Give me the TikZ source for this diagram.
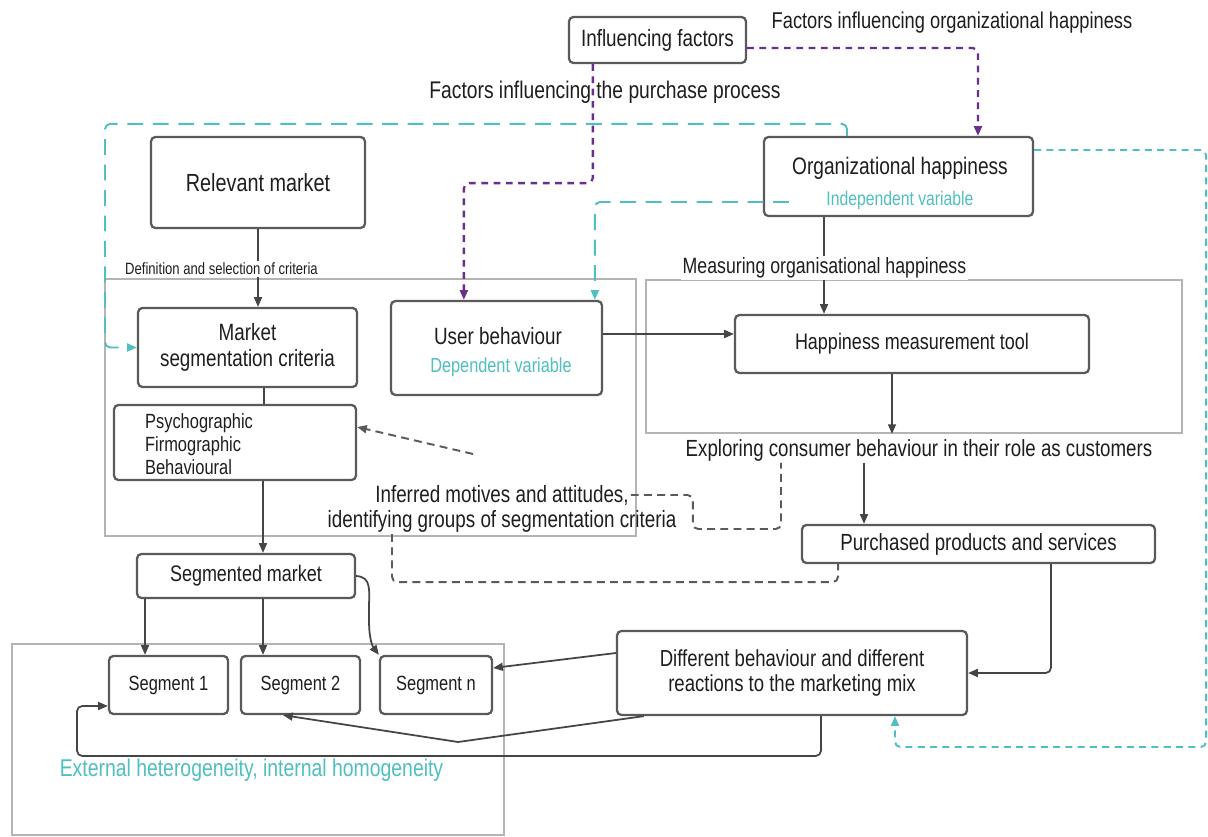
\documentclass[tikz,border=0pt]{standalone}
\usepackage{fontspec}
\setmainfont{Liberation Sans}[FakeStretch=0.8]
\usetikzlibrary{arrows.meta,calc}

\definecolor{ink}{HTML}{1E1E1E}
\definecolor{boxline}{HTML}{5A5A5A}
\definecolor{frameline}{HTML}{B4B4B4}
\definecolor{wirec}{HTML}{454545}
\definecolor{tealc}{HTML}{4FBFC0}
\definecolor{purp}{HTML}{6A2E8F}
\definecolor{dgray}{HTML}{5A5A5A}

\newcommand\fsz[2]{\fontsize{#1}{#2}\selectfont}

\tikzset{
  box/.style={draw=boxline, line width=1.3pt, rounded corners=2.5pt, fill=white,
    inner sep=0pt, text=ink, align=center},
  frame/.style={draw=frameline, line width=1.1pt, inner sep=0pt},
  lbl/.style={inner sep=1pt, text=ink, align=center},
  tip/.style={-{Triangle[length=5.5pt,width=4.5pt]}},
  wire/.style={draw=wirec, line width=1pt, rounded corners=3pt, tip},
  purpline/.style={draw=purp, line width=1.3pt, dash pattern=on 3.8pt off 3.2pt,
    rounded corners=3pt, -{Triangle[length=5.5pt,width=4.5pt]}},
  teallong/.style={draw=tealc, line width=1.1pt, dash pattern=on 9pt off 5.5pt,
    rounded corners=3pt, -{Triangle[length=5.5pt,width=4.5pt]}},
  tealdot/.style={draw=tealc, line width=1.1pt, dash pattern=on 4pt off 3pt,
    rounded corners=3pt, -{Triangle[length=5.5pt,width=4.5pt]}},
  gdash/.style={draw=dgray, line width=1.1pt, dash pattern=on 4.5pt off 3pt,
    rounded corners=3pt},
}

\begin{document}
\begin{tikzpicture}[x=0.02cm, y=-0.02cm]
\fill[white] (0,0) rectangle (1208,837);
\useasboundingbox (0,0) rectangle (1208,837);

% light grey grouping frames
\node[frame, minimum width=10.62cm, minimum height=5.14cm] (lbox) at (370.5,407.5) {};
\node[frame, minimum width=10.72cm, minimum height=3.06cm] (rbox) at (914,356.5) {};
\node[frame, minimum width=9.84cm, minimum height=3.82cm] (bbox) at (258,739.5) {};

% boxes
\node[box, minimum width=3.54cm, minimum height=0.92cm, font=\fsz{13.4pt}{15pt}] (inf) at (657.5,40) {Influencing factors};
\node[box, minimum width=5.38cm, minimum height=1.58cm] (org) at (898.5,176.5) {};
\node[box, minimum width=4.28cm, minimum height=1.82cm, font=\fsz{14.1pt}{16pt}] (rel) at (258,182.5) {Relevant market};
\node[box, minimum width=4.38cm, minimum height=1.58cm, font=\fsz{13.4pt}{14.7pt}] (msc) at (247.5,347.5) {Market\\segmentation criteria};
\node[box, minimum width=4.84cm, minimum height=1.5cm] (psy) at (235,442.5) {};
\node[box, minimum width=4.22cm, minimum height=1.88cm] (ub) at (496.5,348) {};
\node[box, minimum width=7.08cm, minimum height=1.16cm, font=\fsz{12.8pt}{14pt}] (tool) at (912,344) {Happiness measurement tool};
\node[box, minimum width=7.06cm, minimum height=0.76cm, font=\fsz{13.3pt}{14.7pt}] (pur) at (978.5,544) {Purchased products and services};
\node[box, minimum width=4.36cm, minimum height=0.88cm, font=\fsz{12.8pt}{14pt}] (seg) at (246,576) {Segmented market};
\node[box, minimum width=2.38cm, minimum height=1.16cm, font=\fsz{11.7pt}{13pt}] (s1) at (168.5,685) {Segment 1};
\node[box, minimum width=2.38cm, minimum height=1.16cm, font=\fsz{11.7pt}{13pt}] (s2) at (300.5,685) {Segment 2};
\node[box, minimum width=2.24cm, minimum height=1.16cm, font=\fsz{11.7pt}{13pt}] (sn) at (436,685) {Segment n};
\node[box, minimum width=7.0cm, minimum height=1.68cm, font=\fsz{13.2pt}{14.7pt}] (diff) at (792,673) {Different behaviour and different\\reactions to the marketing mix};

% texts inside the two-line boxes
\node[lbl, font=\fsz{13.6pt}{15pt}] (orgT) at (900,168) {Organizational happiness};
\node[lbl, font=\fsz{11.2pt}{13pt}, text=tealc] (orgV) at (900,200) {Independent variable};
\node[lbl, font=\fsz{13.4pt}{15pt}] (ubT) at (498,336) {User behaviour};
\node[lbl, font=\fsz{11.6pt}{13pt}, text=tealc] (ubV) at (501,367) {Dependent variable};
\node[lbl, anchor=west, align=left, font=\fsz{11.7pt}{13pt}] (psyT) at (143,444) {Psychographic\\Firmographic\\Behavioural};

% free labels
\node[lbl, font=\fsz{13pt}{15pt}] (fOrg) at (952,23) {Factors influencing organizational happiness};
\node[lbl, font=\fsz{13.7pt}{15pt}] (fPur) at (605,92) {Factors influencing the purchase process};
\node[lbl, fill=white, font=\fsz{13.3pt}{15pt}] (explore) at (919,450) {Exploring consumer behaviour in their role as customers};
\node[lbl, font=\fsz{13.4pt}{15pt}] (infA) at (502,495) {Inferred motives and attitudes,};
\node[lbl, font=\fsz{13.4pt}{15pt}] (infB) at (502,521) {identifying groups of segmentation criteria};
\node[lbl, font=\fsz{13.8pt}{15pt}, text=tealc] (ext) at (251.5,770) {External heterogeneity, internal homogeneity};

% helper points on box borders
\coordinate (m1) at ([xshift=0.33cm]msc.south);
\coordinate (c8) at ([xshift=0.56cm]psy.south);
\coordinate (c9) at ([yshift=0.28cm]ub.east);
\coordinate (c10) at ([xshift=-1.49cm]org.south);
\coordinate (c11) at ([xshift=-0.4cm]tool.south);
\coordinate (c12) at ([xshift=-1.1cm]explore.south);
\coordinate (c17) at ([xshift=-2.02cm]seg.south);
\coordinate (c18) at ([xshift=0.34cm]seg.south);
\coordinate (vtx) at (458,742);
\coordinate (loopL) at (77,756);
\coordinate (dStart) at (473,454);

% influencing factors (purple)
\draw[purpline] ([xshift=0.5cm]inf.south west) -- ++(0,119) -| ([xshift=1.48cm]ub.north west);
\draw[purpline] ([yshift=-0.16cm]inf.east) -| ([xshift=1.59cm]org.north);

% independent variable feedback (teal)
\draw[teallong] ([xshift=-1.03cm]org.north) -- ++(0,-12) -- ++(-742,0) |- (msc.west);
\draw[teallong] ([xshift=0.52cm,yshift=-0.51cm]org.west) -| ([xshift=4.1cm]ub.north west);
\draw[tealdot] ([yshift=0.53cm]org.east) -- ++(172,0) -- ++(0,597) -| ([xshift=2.06cm]diff.south);

% main flow
\draw[wire] (rel.south) -- (rel.south |- msc.north);
\draw[wire, -] (m1) -- (m1 |- psy.north);
\draw[wire] (c8) -- (c8 |- seg.north);
\draw[wire] (c9) -- (c9 -| tool.west);
\draw[wire] (c10) -- (c10 |- tool.north);
\draw[wire] (c11) -- (c11 |- rbox.south);
\draw[wire] (c12) -- (c12 |- pur.north);
\draw[wire] ([xshift=1.45cm]pur.south) |- (diff.east);
\draw[wire] ([yshift=0.4cm]diff.west) -- ([yshift=0.34cm]sn.east);
\draw[wire, rounded corners=0pt] ([xshift=0.56cm]diff.south west) -- (vtx) -- ([xshift=-0.35cm]s2.south);
\draw[wire] ([xshift=0.58cm]diff.south) |- (loopL) |- ([yshift=-0.42cm]s1.west);
\draw[wire] (c17) -- (c17 |- s1.north);
\draw[wire] (c18) -- (c18 |- s2.north);
\draw[wire] (seg.east) .. controls (372,577) and (369,590) .. (369,615)
  .. controls (369,640) and (373,647) .. (sn.north west);

% inferred segmentation links (grey dashed)
\draw[gdash, tip] (dStart) -- ([yshift=0.31cm]psy.east);
\draw[gdash] (infA.east) -- ++(62,0) -- ++(0,34) -| ([xshift=-2.76cm]explore.south);
\draw[gdash] ([xshift=-2.2cm]infB.south) -- ++(0,48) -| ([xshift=-2.81cm]pur.south);

% labels sitting on connectors
\node[lbl, fill=white, font=\fsz{9.3pt}{11pt}] (defn) at (221.5,269) {Definition and selection of criteria};
\node[lbl, fill=white, font=\fsz{12.6pt}{14pt}] (meas) at (824.5,268) {Measuring organisational happiness};
\end{tikzpicture}
\end{document}
